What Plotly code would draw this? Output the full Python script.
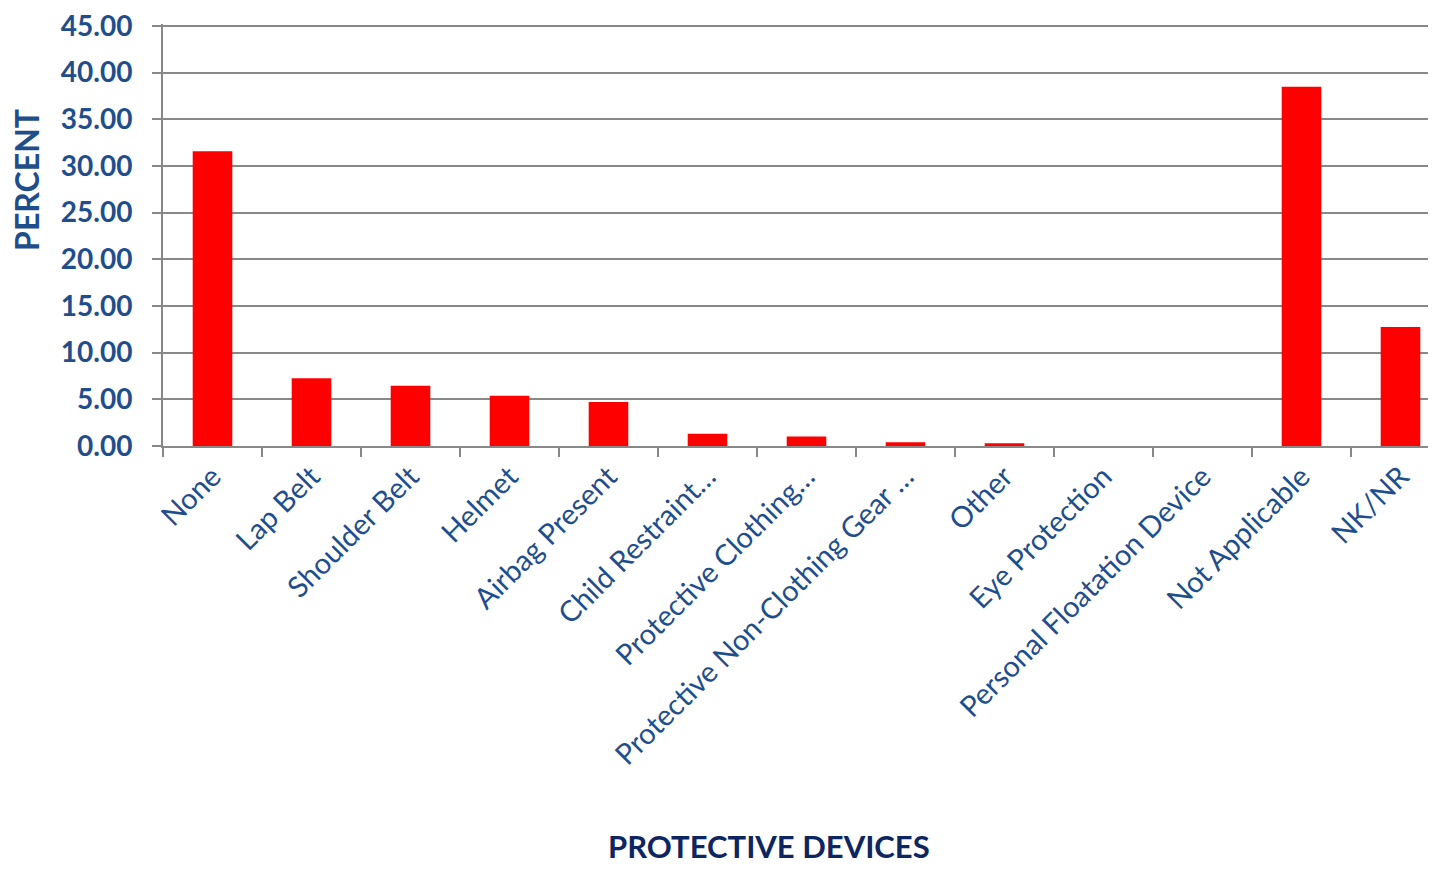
import plotly.graph_objects as go

categories = ["None", "Lap Belt", "Shoulder Belt", "Helmet", "Airbag Present",
              "Child Restraint…", "Protective Clothing…", "Protective Non-Clothing Gear …",
              "Other", "Eye Protection", "Personal Floatation Device",
              "Not Applicable", "NK/NR"]
percent = [31.58, 7.27, 6.45, 5.38, 4.71, 1.32, 1.03, 0.39, 0.29, 0.0, 0.0, 38.47, 12.74]
y_ticks = [0, 5, 10, 15, 20, 25, 30, 35, 40, 45]

FONT = "Lato"
TICK_BLUE = "#1F4E8C"
NAVY = "#0D2560"

# page has an 8px body margin: compensate so plot area lands at x=163..1436, y=23..446
OFF = 8
YMAX = 45.2
B = 446 - OFF
PH = round(423 * YMAX / 45)
T = B - PH
L = 163 - OFF
W, H = 1436 - OFF, 869 - OFF
PW = W - L

fig = go.Figure(go.Bar(
    x=categories, y=percent,
    marker=dict(color="#FF0000", line=dict(width=0)),
))

fig.update_layout(
    width=W, height=H,
    margin=dict(l=L, r=0, t=T, b=H - B),
    paper_bgcolor="white", plot_bgcolor="white",
    bargap=0.6, showlegend=False,
    font=dict(family=FONT),
    annotations=[
        dict(text="<b>PROTECTIVE DEVICES</b>", xref="paper", yref="paper",
             x=(769 - 163) / PW, y=(446 - 849) / PH, showarrow=False,
             xanchor="center", yanchor="middle",
             font=dict(family=FONT, size=31, color=NAVY)),
        dict(text="<b>PERCENT</b>", xref="paper", yref="paper",
             x=(27 - 163) / PW, y=(446 - 178) / PH, showarrow=False,
             textangle=-90, xanchor="center", yanchor="middle",
             font=dict(family=FONT, size=32, color=TICK_BLUE)),
    ],
)

fig.update_xaxes(
    type="category", range=[-0.5, -0.5 + PW / 99.0],
    tickson="boundaries", ticks="outside", ticklen=9, tickcolor="#888888", tickwidth=2,
    showline=True, linecolor="#888888", linewidth=2,
    showgrid=False, tickangle=-45,
    tickfont=dict(family=FONT, size=29, color=TICK_BLUE),
)

fig.update_yaxes(
    range=[0, YMAX], tickvals=y_ticks, tickformat=".2f",
    ticks="outside", ticklen=9, tickcolor="#888888", tickwidth=2,
    showline=True, linecolor="#888888", linewidth=2,
    showgrid=True, gridcolor="#888888", gridwidth=2,
    zeroline=False, ticklabelstandoff=14, ticklabeloverflow="allow",
    tickfont=dict(family=FONT, size=28, color=TICK_BLUE, weight="bold"),
)

fig.write_html("out.html")
